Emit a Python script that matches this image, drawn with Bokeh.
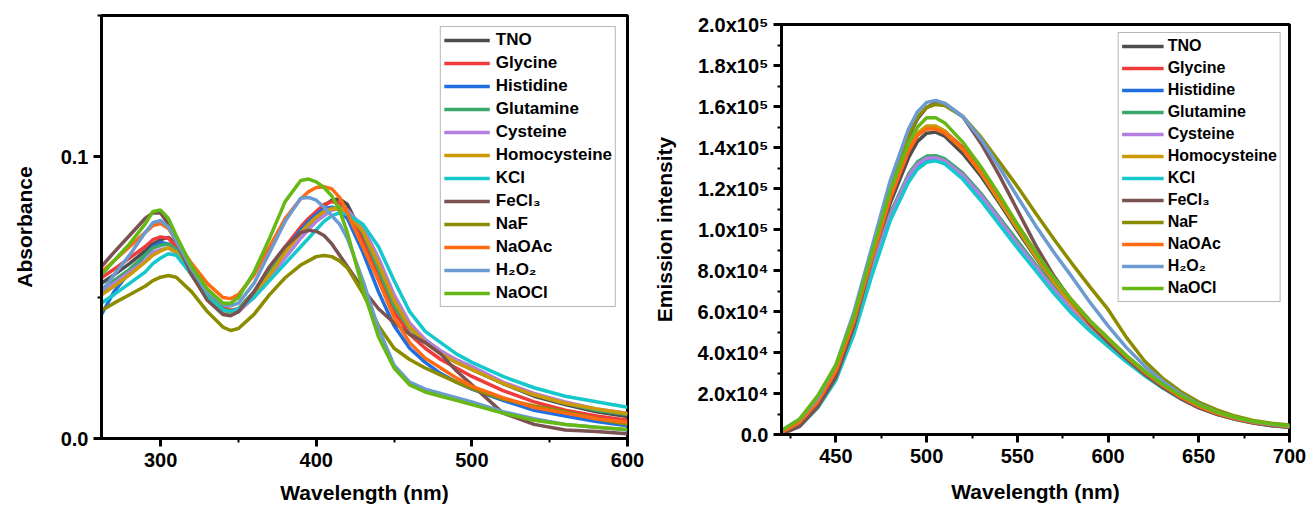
from bokeh.plotting import figure
from bokeh.layouts import row, column
from bokeh.models import FixedTicker
from bokeh.embed import file_html
from bokeh.resources import INLINE

# ---------------- data ----------------
names = ["TNO", "Glycine", "Histidine", "Glutamine", "Cysteine", "Homocysteine",
         "KCl", "FeCl\u2083", "NaF", "NaOAc", "H\u2082O\u2082", "NaOCl"]
colors = ["#4d4d4d", "#ef3b3b", "#1f6fe0", "#3aa86b", "#b27fe0", "#cc9a06",
          "#14c8cc", "#7a5252", "#8c8c00", "#ff6a13", "#6b9bd1", "#66b814"]

# UV-vis absorption (left panel)
wl_abs = [262, 270, 280, 290, 295, 300, 305, 310,
          320, 330, 340, 345, 350,
          360, 370, 380, 390, 395, 400, 405, 410, 415, 420,
          430, 440, 450, 460, 470, 480, 490, 500,
          520, 540, 560, 580, 600]

abs_tno = [0.055, 0.058, 0.062, 0.0665, 0.069, 0.0705, 0.0713, 0.069,
           0.060, 0.051, 0.0455, 0.0443, 0.045,
           0.051, 0.059, 0.067, 0.074, 0.077, 0.080, 0.0825, 0.0845, 0.085, 0.083,
           0.072, 0.059, 0.047, 0.040, 0.035, 0.031, 0.0275, 0.0245,
           0.0195, 0.015, 0.012, 0.0095, 0.0078]
abs_glycine = [0.057, 0.060, 0.064, 0.068, 0.0705, 0.0715, 0.071, 0.068,
               0.060, 0.052, 0.0465, 0.0455, 0.046,
               0.052, 0.060, 0.068, 0.075, 0.078, 0.0805, 0.083, 0.084, 0.0835, 0.081,
               0.070, 0.057, 0.045, 0.037, 0.032, 0.028, 0.025, 0.022,
               0.017, 0.013, 0.010, 0.008, 0.0065]
abs_histidine = [0.044, 0.052, 0.059, 0.065, 0.068, 0.0695, 0.069, 0.066,
                 0.058, 0.050, 0.045, 0.044, 0.045,
                 0.051, 0.059, 0.067, 0.074, 0.077, 0.0795, 0.0815, 0.082, 0.081, 0.078,
                 0.066, 0.052, 0.040, 0.032, 0.027, 0.023, 0.020, 0.0175,
                 0.0135, 0.010, 0.008, 0.006, 0.0045]
abs_glutamine = [0.053, 0.056, 0.060, 0.065, 0.0675, 0.0685, 0.069, 0.067,
                 0.059, 0.051, 0.046, 0.045, 0.046,
                 0.052, 0.060, 0.067, 0.073, 0.0755, 0.078, 0.080, 0.0815, 0.082, 0.081,
                 0.073, 0.060, 0.047, 0.039, 0.034, 0.030, 0.027, 0.0245,
                 0.0195, 0.0155, 0.0125, 0.010, 0.0085]
abs_cysteine = [0.052, 0.055, 0.059, 0.063, 0.066, 0.067, 0.0675, 0.066,
                0.058, 0.050, 0.045, 0.044, 0.045,
                0.050, 0.057, 0.064, 0.071, 0.074, 0.077, 0.079, 0.081, 0.0815, 0.081,
                0.075, 0.064, 0.051, 0.041, 0.035, 0.031, 0.028, 0.0255,
                0.020, 0.016, 0.013, 0.0105, 0.009]
abs_homocys = [0.051, 0.054, 0.058, 0.0625, 0.065, 0.0665, 0.0677, 0.066,
               0.058, 0.050, 0.0455, 0.0445, 0.0455,
               0.051, 0.058, 0.066, 0.073, 0.076, 0.0785, 0.0805, 0.0815, 0.0816, 0.080,
               0.0735, 0.062, 0.049, 0.0395, 0.034, 0.030, 0.027, 0.0245,
               0.0195, 0.0155, 0.0125, 0.0105, 0.0088]
abs_kcl = [0.048, 0.051, 0.055, 0.059, 0.062, 0.064, 0.0655, 0.065,
           0.058, 0.050, 0.0455, 0.045, 0.046,
           0.050, 0.056, 0.062, 0.068, 0.071, 0.074, 0.077, 0.079, 0.080, 0.0795,
           0.076, 0.068, 0.056, 0.045, 0.038, 0.034, 0.030, 0.027,
           0.022, 0.018, 0.015, 0.013, 0.0111]
abs_fecl3 = [0.061, 0.066, 0.072, 0.078, 0.080, 0.080, 0.076, 0.070,
             0.058, 0.049, 0.044, 0.0435, 0.045,
             0.052, 0.061, 0.068, 0.073, 0.0738, 0.0735, 0.072, 0.069, 0.065, 0.061,
             0.053, 0.046, 0.041, 0.037, 0.034, 0.030, 0.024, 0.019,
             0.009, 0.005, 0.003, 0.0025, 0.0017]
abs_naf = [0.0454, 0.048, 0.051, 0.054, 0.056, 0.0572, 0.0578, 0.0572,
           0.052, 0.045, 0.0395, 0.0383, 0.039,
           0.044, 0.051, 0.057, 0.0615, 0.063, 0.0645, 0.0649, 0.0645, 0.063, 0.0605,
           0.0515, 0.040, 0.032, 0.028, 0.025, 0.0225, 0.020, 0.0177,
           0.014, 0.0115, 0.0095, 0.007, 0.005]
abs_naoac = [0.059, 0.063, 0.068, 0.073, 0.0755, 0.0762, 0.0745, 0.070,
             0.062, 0.055, 0.050, 0.0496, 0.051,
             0.058, 0.068, 0.078, 0.085, 0.0875, 0.089, 0.0893, 0.0885, 0.0855, 0.080,
             0.068, 0.056, 0.043, 0.034, 0.0285, 0.025, 0.0215, 0.0185,
             0.0145, 0.011, 0.009, 0.007, 0.0058]
abs_h2o2 = [0.052, 0.058, 0.065, 0.073, 0.0765, 0.0773, 0.075, 0.070,
            0.060, 0.052, 0.0475, 0.047, 0.048,
            0.055, 0.066, 0.077, 0.0852, 0.0855, 0.0845, 0.082, 0.079, 0.076, 0.071,
            0.056, 0.039, 0.026, 0.020, 0.0175, 0.016, 0.0145, 0.013,
            0.0095, 0.007, 0.005, 0.004, 0.003]
abs_naocl = [0.058, 0.063, 0.069, 0.076, 0.0805, 0.081, 0.078, 0.072,
             0.061, 0.053, 0.048, 0.048, 0.050,
             0.059, 0.071, 0.084, 0.0915, 0.092, 0.091, 0.089, 0.086, 0.081, 0.073,
             0.053, 0.036, 0.025, 0.019, 0.0165, 0.015, 0.0135, 0.012,
             0.009, 0.0065, 0.005, 0.004, 0.0032]

abs_series = [abs_tno, abs_glycine, abs_histidine, abs_glutamine, abs_cysteine, abs_homocys,
              abs_kcl, abs_fecl3, abs_naf, abs_naoac, abs_h2o2, abs_naocl]

# Fluorescence emission (right panel), intensity in units of 10^3
wl_em = [420, 430, 440, 450, 460, 470, 480, 490,
         495, 500, 505, 510,
         520, 530, 540, 550, 560, 570, 580, 590, 600,
         610, 620, 630, 640, 650, 660, 670, 680, 690, 700]

em_tno = [0.5, 5, 15, 29, 53, 84, 113, 135,
          143, 147, 147.5, 145.5,
          137, 126, 113, 99.5, 86.5, 74, 63, 53, 45,
          37, 29.5, 23, 18, 13.5, 10.3, 7.8, 6, 4.7, 3.8]
em_glycine = [0.5, 5.5, 15.5, 30, 54, 85, 115, 138,
              146, 149.5, 150, 148,
              140, 129, 116, 102.5, 89, 76.5, 65.5, 55.5, 47,
              38.5, 31, 24.3, 18.7, 14, 10.6, 8.1, 6.2, 4.9, 4]
em_histidine = [0.5, 4.5, 14, 28, 51, 80, 106, 124,
                130.5, 133.5, 134, 132.5,
                125, 114.5, 103, 91.5, 80.5, 69.5, 59.5, 51, 43.5,
                36, 29, 23, 17.8, 13.3, 10, 7.6, 5.8, 4.5, 3.6]
em_glutamine = [0.5, 4.5, 14.5, 28.5, 52, 81, 108, 127,
                133, 135.8, 136, 134.5,
                127.5, 117.5, 106, 94.5, 83, 72, 62, 53, 45,
                37.5, 30, 23.7, 18.2, 13.6, 10.3, 7.8, 5.9, 4.6, 3.7]
em_cysteine = [0.5, 4.5, 14, 28, 51.5, 80.5, 107, 126,
               132, 134.8, 135, 133.5,
               126.5, 116.5, 105, 93, 82, 71, 61, 52, 44,
               36.5, 29.3, 23.2, 17.9, 13.4, 10.1, 7.7, 5.8, 4.5, 3.6]
em_homocys = [1.5, 7, 17, 32, 57, 88, 118, 140,
              147, 150.5, 150.5, 148,
              139, 127.5, 114, 100.5, 87, 74.5, 63.5, 53.5, 45,
              37, 29.5, 23, 17.7, 13.2, 9.9, 7.5, 5.7, 4.5, 3.6]
em_kcl = [0.3, 4, 13, 26.5, 49, 78, 104.5, 123,
          129.5, 132.8, 133.5, 132,
          124.5, 114, 102.5, 91, 80, 69, 59, 50.5, 43,
          35.5, 28.8, 22.8, 17.5, 13.1, 9.9, 7.5, 5.7, 4.4, 3.5]
em_fecl3 = [0.2, 4, 13.5, 28, 53, 86, 119, 145,
            154, 159.5, 162, 161.5,
            155, 142, 126.5, 109.5, 92.5, 77.5, 65, 54, 45,
            37, 29.5, 23, 17.5, 13, 9.8, 7.4, 5.6, 4.3, 3.5]
em_naf = [1.5, 6.5, 16.5, 32, 57, 89, 121, 146,
          155, 159.5, 161, 160.5,
          155, 145, 133, 121, 108, 95.5, 83.5, 72, 61,
          47.5, 36, 27.5, 21, 15.8, 12, 9, 6.9, 5.5, 4.6]
em_naoac = [1.0, 6, 16, 31, 55.5, 86.5, 116, 138.5,
            146, 149, 149, 147,
            139, 128, 115.5, 102, 88.5, 76, 65, 55, 46.5,
            38, 30.5, 24, 18.3, 13.7, 10.3, 7.8, 6, 4.7, 3.8]
em_h2o2 = [2.0, 7.5, 18, 34, 60, 92, 124, 149,
           157.5, 162, 163, 161.5,
           155, 144, 130.5, 116, 102, 89, 77, 64.5, 53,
           42.5, 33.5, 26, 19.8, 14.8, 11, 8.3, 6.3, 5, 4.2]
em_naocl = [2.0, 7.5, 19, 34, 58, 89, 119, 142,
            150, 154.5, 154.5, 152,
            142.5, 130.5, 117, 102.5, 89, 76.5, 65.5, 55.5, 47,
            38.5, 31, 24.5, 19, 14.5, 11, 8.4, 6.5, 5.2, 4.3]

em_series = [em_tno, em_glycine, em_histidine, em_glutamine, em_cysteine, em_homocys,
             em_kcl, em_fecl3, em_naf, em_naoac, em_h2o2, em_naocl]

abs_ticks = [0, 0.1]
abs_minor = [0.05, 0.15]
abs_tick_labels = ["0.0", "0.1"]
abs_xticks = [300, 400, 500, 600]
abs_xminor = [350, 450, 550]

em_yticks = [0, 20, 40, 60, 80, 100, 120, 140, 160, 180, 200]
em_yminor = [10, 30, 50, 70, 90, 110, 130, 150, 170, 190]
em_tick_labels = ["0.0", "2.0x10\u2074", "4.0x10\u2074", "6.0x10\u2074", "8.0x10\u2074",
                  "1.0x10\u2075", "1.2x10\u2075", "1.4x10\u2075", "1.6x10\u2075",
                  "1.8x10\u2075", "2.0x10\u2075"]
em_xticks = [450, 500, 550, 600, 650, 700]
em_xminor = [425, 475, 525, 575, 625, 675]

FONT = "Liberation Sans"


def style(p, tick_size, label_size):
    p.xgrid.visible = False
    p.ygrid.visible = False
    p.outline_line_color = "black"
    p.outline_line_width = 3
    p.outline_line_alpha = 1
    p.background_fill_color = "white"
    p.border_fill_color = "white"
    for ax in (p.xaxis[0], p.yaxis[0]):
        ax.axis_line_width = 3
        ax.axis_line_color = "black"
        ax.major_tick_line_width = 3
        ax.minor_tick_line_width = 2
        ax.major_tick_in = 0
        ax.major_tick_out = 8
        ax.minor_tick_in = 0
        ax.minor_tick_out = 4
        ax.major_tick_line_color = "black"
        ax.minor_tick_line_color = "black"
        ax.major_label_text_font = FONT
        ax.major_label_text_font_style = "bold"
        ax.major_label_text_font_size = tick_size
        ax.major_label_text_color = "black"
        ax.major_label_standoff = 5
        ax.axis_label_text_font = FONT
        ax.axis_label_text_font_style = "bold"
        ax.axis_label_text_font_size = label_size
        ax.axis_label_text_color = "black"


def style_legend(p, font_size, spacing, margin, glyph_w, standoff):
    lg = p.legend[0]
    lg.location = "top_right"
    lg.margin = margin
    lg.padding = 3
    lg.spacing = spacing
    lg.label_text_font = FONT
    lg.label_text_font_style = "bold"
    lg.label_text_font_size = font_size
    lg.label_text_color = "black"
    lg.label_height = 20
    lg.glyph_height = 20
    lg.glyph_width = glyph_w
    lg.label_standoff = standoff
    lg.border_line_color = "#707070"
    lg.border_line_width = 1.5
    lg.background_fill_color = "white"
    lg.background_fill_alpha = 1


# ---------------- left panel ----------------
p1 = figure(width=650, height=511, x_range=(262, 600), y_range=(0, 0.15),
            output_backend="svg", toolbar_location=None,
            min_border_left=101, min_border_right=23, min_border_top=15, min_border_bottom=73)
for name, col, ys in zip(names, colors, abs_series):
    p1.line(wl_abs, ys, line_color=col, line_width=3.5, legend_label=name)

style(p1, "20px", "21px")
p1.xaxis[0].ticker = FixedTicker(ticks=abs_xticks, minor_ticks=abs_xminor)
p1.yaxis[0].ticker = FixedTicker(ticks=abs_ticks, minor_ticks=abs_minor)
p1.yaxis[0].major_label_overrides = {t: s for t, s in zip(abs_ticks, abs_tick_labels)}
p1.xaxis[0].axis_label = "Wavelength (nm)"
p1.yaxis[0].axis_label = "Absorbance"
p1.xaxis[0].major_label_standoff = 6
p1.xaxis[0].axis_label_standoff = 11
p1.yaxis[0].axis_label_standoff = 22
style_legend(p1, "17px", 3, 11, 46, 6)

# ---------------- right panel ----------------
p2 = figure(width=661, height=511, x_range=(420, 700), y_range=(0, 200),
            output_backend="svg", toolbar_location=None,
            min_border_left=129, min_border_right=22, min_border_top=24, min_border_bottom=77)
for name, col, ys in zip(names, colors, em_series):
    p2.line(wl_em, ys, line_color=col, line_width=3.5, legend_label=name)

style(p2, "20px", "21px")
p2.xaxis[0].ticker = FixedTicker(ticks=em_xticks, minor_ticks=em_xminor)
p2.yaxis[0].ticker = FixedTicker(ticks=em_yticks, minor_ticks=em_yminor)
p2.yaxis[0].major_label_overrides = {t: s for t, s in zip(em_yticks, em_tick_labels)}
p2.xaxis[0].axis_label = "Wavelength (nm)"
p2.yaxis[0].axis_label = "Emission intensity"
p2.xaxis[0].major_label_standoff = 6
p2.xaxis[0].axis_label_standoff = 14
p2.yaxis[0].axis_label_standoff = 18
style_legend(p2, "16px", 2, 8, 42, 4)

layout = row(column(p1), column(p2))
open("out.html", "w").write(file_html(layout, INLINE))
